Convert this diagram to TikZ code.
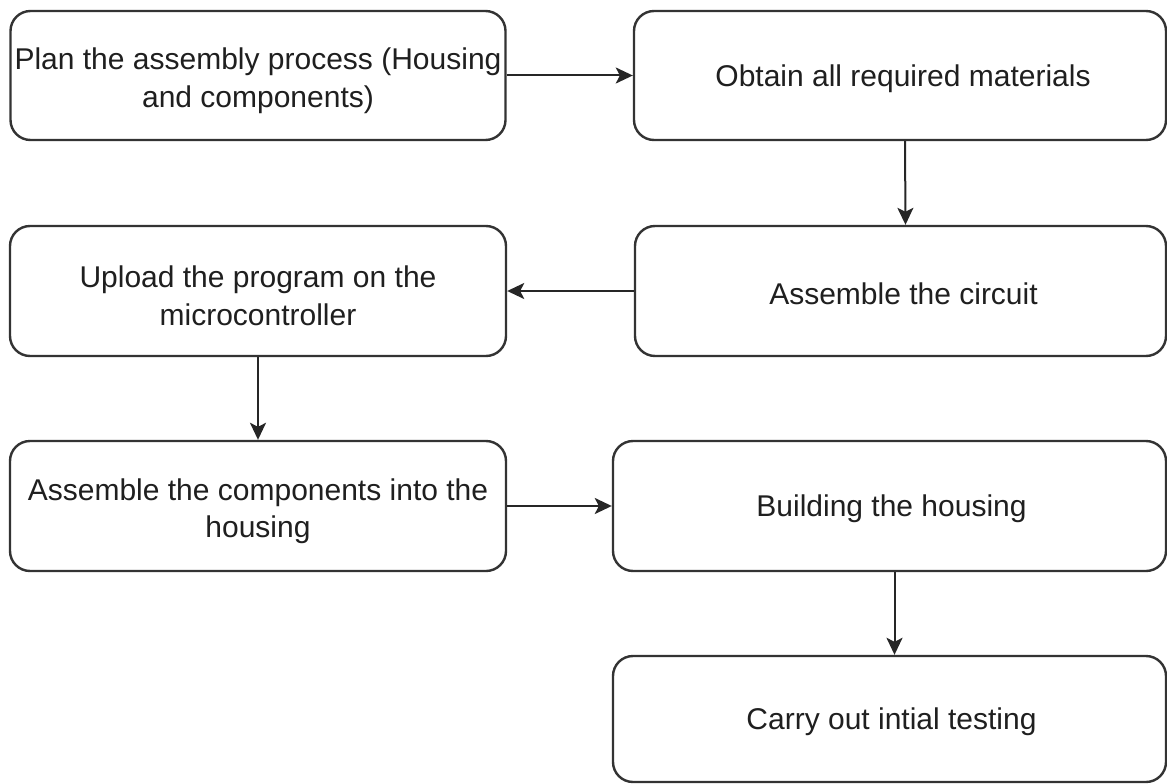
\documentclass[tikz,border=0pt]{standalone}
\usepackage{fontspec}
\setmainfont{Liberation Sans}
\usetikzlibrary{arrows.meta,positioning}
\begin{document}
\begin{tikzpicture}[x=1pt,y=-1pt,
  box/.style={draw=black!80, line width=2.4pt, rounded corners=20pt, fill=white,
    inner sep=0pt},
  txt/.style={align=center, text=black!88, inner sep=0pt,
    font=\fontsize{30}{37.5}\selectfont},
  conn/.style={draw=black!85, line width=2pt, -{Stealth[length=17pt,width=16pt,inset=4pt]}}]
\useasboundingbox (0,0) rectangle (1167,784);
\node[box, minimum width=495pt, minimum height=129pt] (b1) at (258,75.5) {};
\node[box, minimum width=532pt, minimum height=129pt] (b2) at (900,75.5) {};
\node[box, minimum width=496pt, minimum height=130pt] (b3) at (258,291) {};
\node[box, minimum width=531pt, minimum height=130pt] (b4) at (900.5,291) {};
\node[box, minimum width=496pt, minimum height=130pt] (b5) at (258,506) {};
\node[box, minimum width=553pt, minimum height=130pt] (b6) at (889.5,506) {};
\node[box, minimum width=553pt, minimum height=126pt] (b7) at (889.5,719) {};
\node[txt] (t1) at ([yshift=-5pt]b1.center) {Plan the assembly process (Housing\\and components)};
\node[txt] (t2) at ([xshift=3pt,yshift=-3pt]b2.center) {Obtain all required materials};
\node[txt] (t3) at ([yshift=-5pt]b3.center) {Upload the program on the\\microcontroller};
\node[txt] (t4) at ([xshift=3pt,yshift=-3pt]b4.center) {Assemble the circuit};
\node[txt] (t5) at ([yshift=-5pt]b5.center) {Assemble the components into the\\housing};
\node[txt] (t6) at ([xshift=2pt,yshift=-3pt]b6.center) {Building the housing};
\node[txt] (t7) at ([xshift=2pt,yshift=-3pt]b7.center) {Carry out intial testing};
\draw[conn] (b1.east) -- (b2.west);
\draw[conn] ([xshift=5pt]b2.south) -- ([xshift=5pt]b4.north);
\draw[conn] (b4.west) -- (b3.east);
\draw[conn] (b3.south) -- (b5.north);
\draw[conn] (b5.east) -- (b6.west);
\draw[conn] ([xshift=5pt]b6.south) -- ([xshift=5pt]b7.north);
\end{tikzpicture}
\end{document}
